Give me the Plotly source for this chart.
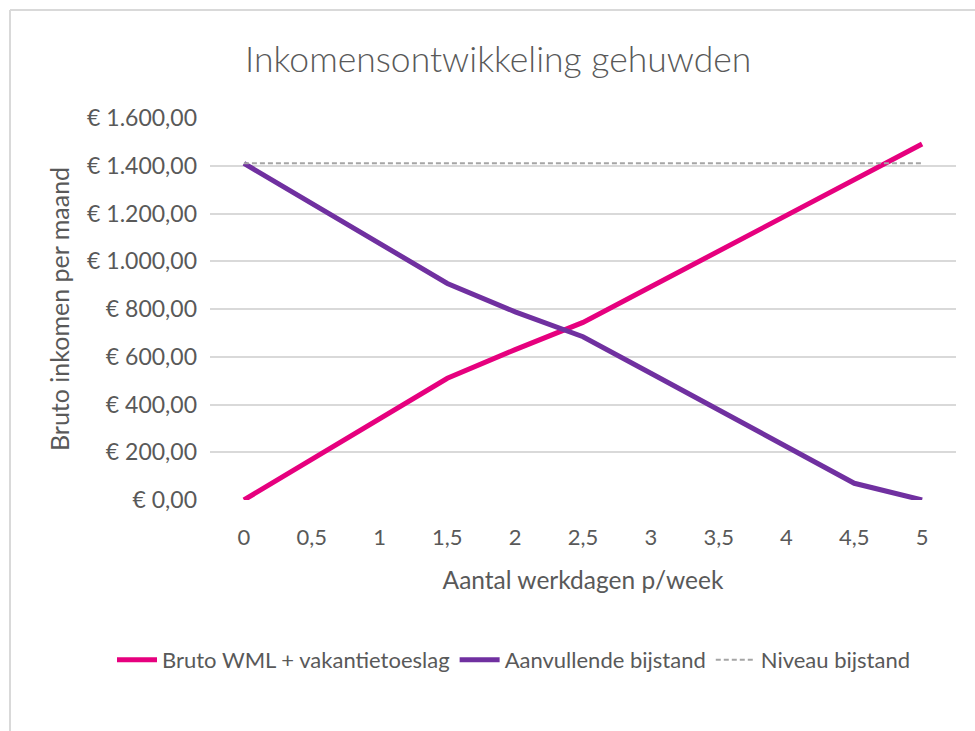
import plotly.graph_objects as go

# Data
werkdagen = ["0", "0,5", "1", "1,5", "2", "2,5", "3", "3,5", "4", "4,5", "5"]
bruto_wml = [0, 170, 340, 510, 630, 744, 893, 1043, 1192, 1342, 1491]
aanvullende_bijstand = [1410, 1242, 1075, 907, 788, 684, 531, 377, 224, 70, 0]
niveau_bijstand = [1410] * 11

y_tick_vals = [0, 200, 400, 600, 800, 1000, 1200, 1400, 1600]
y_tick_text = ["€ 0,00", "€ 200,00", "€ 400,00", "€ 600,00", "€ 800,00",
               "€ 1.000,00", "€ 1.200,00", "€ 1.400,00", "€ 1.600,00"]

FONT = "Lato"
TXT = "#595959"

fig = go.Figure()
fig.add_trace(go.Scatter(x=werkdagen, y=bruto_wml, mode="lines",
                         name="Bruto WML + vakantietoeslag",
                         line=dict(color="#E6007E", width=5)))
fig.add_trace(go.Scatter(x=werkdagen, y=aanvullende_bijstand, mode="lines",
                         name="Aanvullende bijstand",
                         line=dict(color="#7030A0", width=5)))
fig.add_trace(go.Scatter(x=werkdagen, y=niveau_bijstand, mode="lines",
                         name="Niveau bijstand",
                         line=dict(color="#A5A5A5", width=2, dash="5px,3px")))

L, R, T, B = 210, 19, 118, 231
W, H = 975, 731
pw = W - L - R
ph = H - T - B

def px_x(p):
    return (p - L) / pw

def px_y(p):
    return (H - B - p) / ph

fig.update_layout(
    width=W, height=H,
    margin=dict(l=L, r=R, t=T, b=B),
    paper_bgcolor="white", plot_bgcolor="white",
    font=dict(family=FONT, color=TXT, size=20),
    title=dict(text="Inkomensontwikkeling gehuwden", xref="container", x=0.511,
               xanchor="center", yref="container", y=1 - 60 / H, yanchor="middle",
               font=dict(size=35.5, color=TXT, family=FONT, weight=300)),
    xaxis=dict(type="category", range=[-0.5, 10.5], showgrid=False, zeroline=False,
               showline=False, ticks="", ticklabelstandoff=22,
               tickfont=dict(size=22, color=TXT),
               title=dict(text="Aantal werkdagen p/week", font=dict(size=24.5, color=TXT),
                          standoff=22)),
    yaxis=dict(range=[0, 1600], tickvals=y_tick_vals, ticktext=y_tick_text,
               showgrid=True, gridcolor="#D9D9D9", gridwidth=2, zeroline=False,
               showline=False, ticks="", ticklabelstandoff=12,
               tickfont=dict(size=23, color=TXT),
               title=dict(text="Bruto inkomen per maand", font=dict(size=25, color=TXT),
                          standoff=10)),
    legend=dict(orientation="h", xref="paper", x=px_x(112), xanchor="left",
                yref="paper", y=px_y(660), yanchor="middle",
                font=dict(size=22, color=TXT), itemwidth=40,
                bgcolor="rgba(0,0,0,0)"),
    showlegend=True,
    shapes=[
        dict(type="line", xref="paper", yref="paper", x0=px_x(10), x1=px_x(980),
             y0=px_y(10), y1=px_y(10), line=dict(color="#D9D9D9", width=2)),
        dict(type="line", xref="paper", yref="paper", x0=px_x(10), x1=px_x(10),
             y0=px_y(10), y1=px_y(740), line=dict(color="#D9D9D9", width=2)),
    ],
)

fig.write_html("out.html", config={"displayModeBar": False},
               post_script="document.body.style.margin='0';document.body.style.padding='0';")
